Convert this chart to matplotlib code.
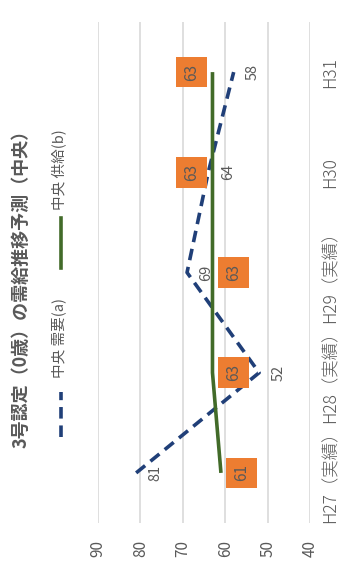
import matplotlib
matplotlib.use("Agg")
import matplotlib.pyplot as plt
from matplotlib.lines import Line2D

plt.rcParams["font.family"] = ["Noto Sans CJK JP", "DejaVu Sans"]

categories = ["H27（実績）", "H28（実績）", "H29（実績）", "H30", "H31"]
demand = [81, 52, 69, 64, 58]
supply = [61, 63, 63, 63, 63]
value_ticks = [90, 80, 70, 60, 50, 40]

title = "3号認定（0歳）の需給推移予測（中央）"
demand_label = "中央 需要(a)"
supply_label = "中央 供給(b)"

BLUE = "#203f78"
GREEN = "#426b29"
ORANGE = "#ed7d31"
GRAY = "#595959"
W, H = 352, 568

fig = plt.figure(figsize=(W / 100, H / 100), dpi=100)
ax = fig.add_axes([98 / W, 1 - 523 / H, 212 / W, 501 / H])

pos = list(range(len(categories)))

# chart is drawn rotated: values run right-to-left, categories bottom-to-top
ax.plot(demand, pos, color=BLUE, lw=2.6, dashes=(3.2, 1.9), zorder=3)
ax.plot(supply, pos, color=GREEN, lw=2.6, solid_capstyle="butt", zorder=3)

for v, p in zip(demand, pos):
    ax.annotate(str(v), (v, p), xytext=(14, 0), textcoords="offset points",
                rotation=90, ha="center", va="center", fontsize=10.5, color=GRAY)

supply_side = [1, 1, 1, -1, -1]
for v, p, s in zip(supply, pos, supply_side):
    ax.annotate(str(v), (v, p), xytext=(15 * s, 0), textcoords="offset points",
                rotation=90, ha="center", va="center", fontsize=11, color=GRAY,
                bbox=dict(boxstyle="square,pad=0.45", fc=ORANGE, ec="none"),
                zorder=4)

ax.set_xlim(90, 40)
ax.set_ylim(-0.5, len(categories) - 0.5)
ax.set_xticks(value_ticks)
ax.set_xticklabels([str(t) for t in value_ticks], rotation=90, fontsize=11, color=GRAY)
ax.set_yticks(pos)
ax.set_yticklabels(categories, rotation=90, fontsize=12.5, color=GRAY, va="center",
                   fontweight="light")
ax.yaxis.tick_right()
ax.tick_params(axis="x", length=0, pad=12)
ax.tick_params(axis="y", length=0, pad=8)
ax.grid(axis="x", color="#d9d9d9", lw=1.2)
ax.set_axisbelow(True)
for sp in ax.spines.values():
    sp.set_visible(False)

fig.text(21 / W, 1 - 284 / H, title, rotation=90, ha="center", va="center",
         fontsize=13, fontweight="bold", color=GRAY)

# legend, drawn by hand so it can be rotated
fig.add_artist(Line2D([61 / W, 61 / W], [1 - 437 / H, 1 - 392 / H],
                      transform=fig.transFigure, color=BLUE, lw=2.6, dashes=(3.2, 1.9)))
fig.text(59 / W, 1 - 338 / H, demand_label, rotation=90, ha="center", va="center",
         fontsize=10.5, color=GRAY)
fig.add_artist(Line2D([61 / W, 61 / W], [1 - 268 / H, 1 - 218 / H],
                      transform=fig.transFigure, color=GREEN, lw=2.6))
fig.text(59 / W, 1 - 170 / H, supply_label, rotation=90, ha="center", va="center",
         fontsize=10.5, color=GRAY)

fig.savefig("out.png", dpi=100, facecolor="white")
